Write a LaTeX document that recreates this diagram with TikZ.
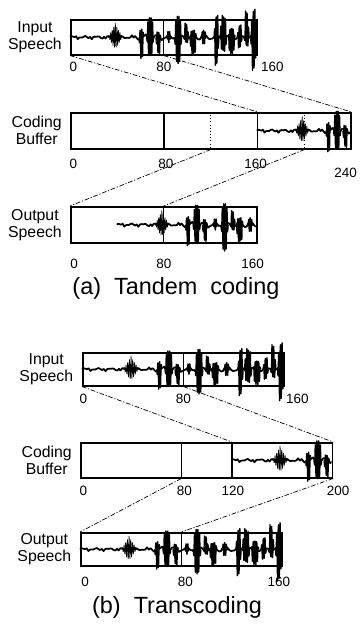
\documentclass[tikz,border=0pt]{standalone}
\usepackage{fontspec}
\setmainfont{Liberation Sans}
\usetikzlibrary{positioning,calc}

% speech trace, drawn in the units of its box (x: samples, y: half box height)
\newcommand\speechwave[1]{%
  \draw[wave, line width=1.5pt] plot[domain=0:160, samples=121, smooth]
    (\x+#1, {(0.05+0.07*(\x>55))*sin(35*\x)+0.04*sin(90*\x)+0.03*sin(150*mod(\x,12))});
  \foreach \cx/\hw/\au/\ad/\fl/\lw in {39/6/.8/.7/1/.6, 61.5/2/.5/1.2/2.2/1.2, 69/3/1.2/1.05/2.2/1.2,
                              76/2/.3/.95/2.2/1.2, 85/1.5/.35/.3/2.2/1.2, 93/3/1.3/1.5/2.2/1.2,
                              100/2/.8/.3/2.2/1.2, 106/3/.4/1/2.2/1.2, 115/2/.4/.4/2.2/1.2,
                              126/2/1.25/1.6/2.2/1.2, 132/3/1.25/.8/2.2/1.2, 139/3/.5/1/2.2/1.2,
                              146/2/.7/.6/2.2/1.2, 152/2/1.5/.5/2.2/1.2, 158/2.5/1.6/1.9/2.2/1.2} {
    \pgfmathsetmacro\lo{\cx-\hw}
    \pgfmathsetmacro\hi{\cx+\hw}
    \pgfmathtruncatemacro\ns{8*\hw+1}
    \draw[wave, line width=\lw pt] plot[domain=\lo:\hi, samples=\ns]
      (\x+#1, {min(1,\fl*(1-abs(\x-\cx)/\hw))*(\au*max(0,sin(270*mod(\x,4)))-\ad*max(0,-sin(270*mod(\x,4))))});
  }%
}

\begin{document}
\begin{tikzpicture}[
  x=0.3mm, y=-0.3mm,
  box/.style={draw, line width=1.3pt, anchor=north west, inner sep=0pt},
  divider/.style={line width=1.2pt},
  guide/.style={line width=.7pt, dotted},
  lab/.style={align=center, inner sep=0pt, font=\fontsize{13.5}{14.5}\selectfont},
  num/.style={inner sep=0pt, font=\fontsize{11.5}{12}\selectfont},
  capt/.style={inner sep=0pt, font=\fontsize{20}{22}\selectfont},
  link/.style={line width=.6pt, dash pattern=on 4pt off 1.5pt on 1pt off 1.5pt},
  wave/.style={line width=1.2pt, line join=round}
]
  \useasboundingbox (0,0) rectangle (359,625);

  % (a) tandem coding
  \node[box, minimum width=55.8mm, minimum height=10.5mm] (inA)  at (70,19)  {};
  \node[box, minimum width=84mm,   minimum height=10.8mm] (bufA) at (70,112) {};
  \node[box, minimum width=55.8mm, minimum height=10.8mm] (outA) at (70,206) {};

  \coordinate (bufA-80n)  at ($(bufA.north west)!1/3!(bufA.north east)$);
  \coordinate (bufA-80s)  at ($(bufA.south west)!1/3!(bufA.south east)$);
  \coordinate (bufA-160n) at ($(bufA.north west)!2/3!(bufA.north east)$);
  \coordinate (bufA-160s) at ($(bufA.south west)!2/3!(bufA.south east)$);
  \coordinate (bufA-200n) at ($(bufA.north west)!5/6!(bufA.north east)$);
  \coordinate (bufA-200s) at ($(bufA.south west)!5/6!(bufA.south east)$);

  \draw[divider] (inA.north) -- (inA.south);
  \draw[divider] (bufA-80n) -- (bufA-80s);
  \draw[divider] (bufA-160n) -- (bufA-160s);
  \draw[guide]   (bufA.north) -- (bufA.south);
  \draw[guide]   (bufA-200n) -- (bufA-200s);
  \draw[divider] (outA.north) -- (outA.south);

  \begin{scope}[shift={(inA.west)}, x=0.34875mm, y=5.25mm]
    \speechwave{0}
  \end{scope}
  \begin{scope}[shift={(bufA.west)}, x=0.35mm, y=5.25mm]
    \clip (160,-3) rectangle (240,3);
    \speechwave{160}
  \end{scope}
  \begin{scope}[shift={(outA.west)}, x=0.34875mm, y=5.25mm]
    \clip (40,-3) rectangle (160,3);
    \speechwave{40}
  \end{scope}

  \draw[link] (inA.south west) -- (bufA-160n);
  \draw[link] (inA.south) -- (bufA.north east);
  \draw[link] (bufA.south) -- (outA.north west);
  \draw[link] (bufA-200s) -- (outA.north);

  \node[lab, left=2.4mm of inA]  (inAlab)  {Input\\Speech};
  \node[lab, left=2.4mm of bufA] (bufAlab) {Coding\\Buffer};
  \node[lab, left=2.4mm of outA] (outAlab) {Output\\Speech};

  \node[num, below=1.8mm of inA.south west, xshift=1mm] (inA0)  {0};
  \node[num, below=1.8mm of inA.south]                  (inA80) {80};
  \node[num, below right=1.8mm and 1mm of inA.south east, anchor=north west] (inA160) {160};
  \node[num, below=2.7mm of bufA.south west, xshift=1mm] (bufA0)   {0};
  \node[num, below=2.7mm of bufA-80s, xshift=.6mm]       (bufA80)  {80};
  \node[num, below=2.7mm of bufA-160s, xshift=-.6mm]     (bufA160) {160};
  \node[num, below=5.5mm of bufA.south east, xshift=-1.8mm] (bufA240) {240};
  \node[num, below=4.5mm of outA.south west, xshift=1.2mm] (outA0)   {0};
  \node[num, below=4.5mm of outA.south]                    (outA80)  {80};
  \node[num, below=4.5mm of outA.south east, xshift=-1.5mm] (outA160) {160};

  \node[capt] (captA) at (176,288) {(a)\ \ Tandem\ \ coding};

  % (b) transcoding
  \node[box, minimum width=60.4mm, minimum height=9.9mm]  (inB)  at (82,352) {};
  \node[box, minimum width=75.5mm, minimum height=10.5mm] (bufB) at (80,442) {};
  \node[box, minimum width=60.4mm, minimum height=9.9mm]  (outB) at (80,532) {};

  \coordinate (bufB-80n)  at ($(bufB.north west)!.4!(bufB.north east)$);
  \coordinate (bufB-80s)  at ($(bufB.south west)!.4!(bufB.south east)$);
  \coordinate (bufB-120n) at ($(bufB.north west)!.6!(bufB.north east)$);
  \coordinate (bufB-120s) at ($(bufB.south west)!.6!(bufB.south east)$);

  \draw[divider] (inB.north) -- (inB.south);
  \draw[divider] (bufB-80n) -- (bufB-80s);
  \draw[divider] (bufB-120n) -- (bufB-120s);
  \draw[divider] (outB.north) -- (outB.south);

  \begin{scope}[shift={(inB.west)}, x=0.3775mm, y=4.95mm]
    \speechwave{0}
  \end{scope}
  \begin{scope}[shift={(bufB.west)}, x=0.3775mm, y=5.25mm]
    \clip (120,-3) rectangle (200,3);
    \speechwave{120}
  \end{scope}
  \begin{scope}[shift={(outB.west)}, x=0.3775mm, y=4.95mm]
    \speechwave{0}
  \end{scope}

  \draw[link] (inB.south west) -- (bufB-120n);
  \draw[link] (inB.south) -- (bufB.north east);
  \draw[link] (bufB-80s) -- (outB.north west);
  \draw[link] (bufB.south east) -- (outB.north);

  \node[lab, left=2.6mm of inB]  (inBlab)  {Input\\Speech};
  \node[lab, left=2.4mm of bufB] (bufBlab) {Coding\\Buffer};
  \node[lab, left=2.6mm of outB] (outBlab) {Output\\Speech};

  \node[num, below=2.1mm of inB.south west, xshift=.4mm] (inB0)  {0};
  \node[num, below=2.1mm of inB.south]                   (inB80) {80};
  \node[num, below right=2.1mm and .3mm of inB.south east, anchor=north west] (inB160) {160};
  \node[num, below=2.1mm of bufB.south west, xshift=1mm] (bufB0)   {0};
  \node[num, below=2.1mm of bufB-80s, xshift=.9mm]       (bufB80)  {80};
  \node[num, below=2.1mm of bufB-120s, xshift=.3mm]      (bufB120) {120};
  \node[num, below=2.1mm of bufB.south east, xshift=1.5mm] (bufB200) {200};
  \node[num, below=3mm of outB.south west, xshift=1.5mm] (outB0)   {0};
  \node[num, below=3mm of outB.south, xshift=1.2mm]      (outB80)  {80};
  \node[num, below=3mm of outB.south east, xshift=-1.2mm] (outB160) {160};

  \node[capt] (captB) at (177,607) {(b)\ \ Transcoding};
\end{tikzpicture}
\end{document}
